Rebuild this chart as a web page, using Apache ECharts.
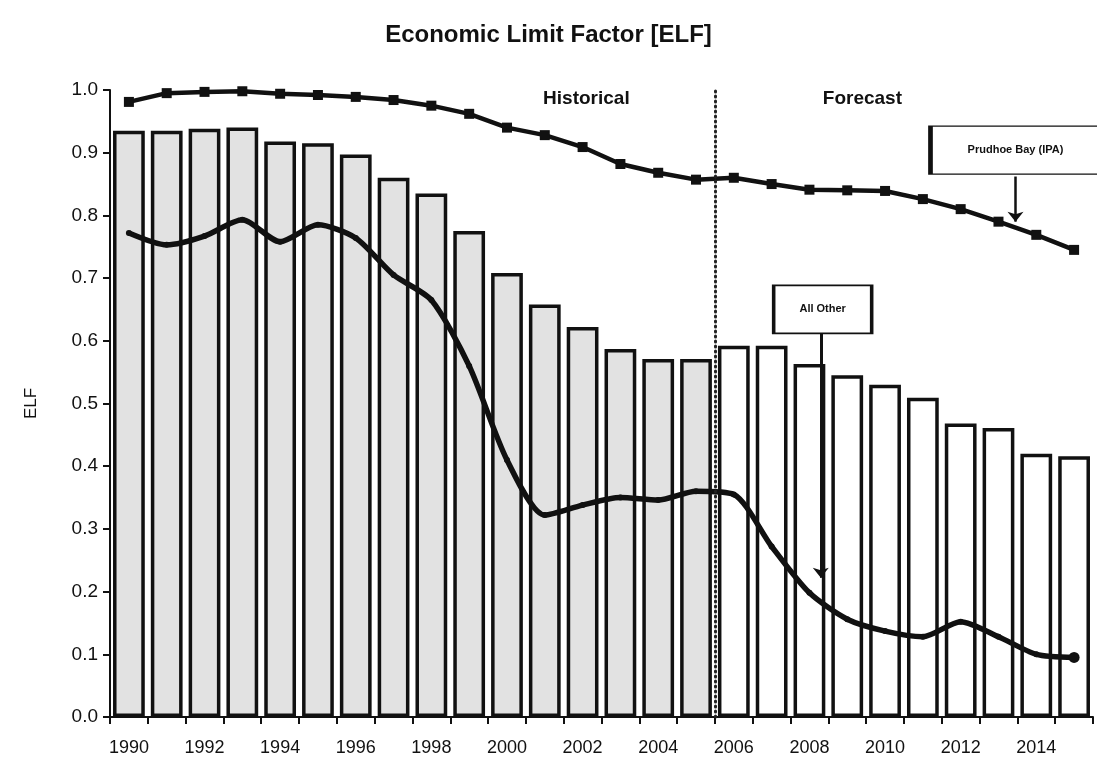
<!DOCTYPE html>
<html>
<head>
<meta charset="utf-8">
<title>Economic Limit Factor [ELF]</title>
<script src="https://cdn.jsdelivr.net/npm/echarts@6/dist/echarts.min.js"></script>
<style>
  html, body { margin: 0; padding: 0; background: #fff; }
  #chart { width: 1097px; height: 774px; }
</style>
</head>
<body>
<div id="chart"></div>
<script>
// years on the x axis, one bar per year
const years = ['1990', '1991', '1992', '1993', '1994', '1995', '1996', '1997', '1998', '1999',
  '2000', '2001', '2002', '2003', '2004', '2005', '2006', '2007', '2008', '2009',
  '2010', '2011', '2012', '2013', '2014', '2015']
// first 16 years are historical (shaded bars), rest forecast
const historicalCount = 16

// total ELF (bars)
const elfBars = [0.935, 0.935, 0.938, 0.940, 0.918, 0.915, 0.897, 0.860, 0.835, 0.775,
  0.708, 0.658, 0.622, 0.587, 0.571, 0.571, 0.592, 0.592, 0.563, 0.545,
  0.530, 0.509, 0.468, 0.461, 0.420, 0.416]

// Prudhoe Bay (IPA) line
const prudhoeBay = [0.981, 0.995, 0.997, 0.998, 0.994, 0.992, 0.989, 0.984, 0.975, 0.962,
  0.940, 0.928, 0.909, 0.882, 0.868, 0.857, 0.860, 0.850, 0.841, 0.840,
  0.839, 0.826, 0.810, 0.790, 0.769, 0.745]

// All Other line
const allOther = [0.772, 0.753, 0.767, 0.793, 0.758, 0.785, 0.764, 0.705, 0.665, 0.560,
  0.410, 0.322, 0.338, 0.350, 0.346, 0.360, 0.355, 0.272, 0.198, 0.156,
  0.137, 0.128, 0.152, 0.128, 0.100, 0.095]

const yTicks = ['0.0', '0.1', '0.2', '0.3', '0.4', '0.5', '0.6', '0.7', '0.8', '0.9', '1.0']

const chart = echarts.init(document.getElementById('chart'))
const ink = '#111'
const font = 'Liberation Sans, Arial, sans-serif'

const option = {
  backgroundColor: '#fff',
  animation: false,
  title: {
    text: 'Economic Limit Factor [ELF]',
    left: 'center',
    top: 18,
    textStyle: { fontFamily: font, fontSize: 24, fontWeight: 'bold', color: ink },
  },
  grid: { left: 110, right: 4, top: 90, bottom: 57 },
  xAxis: [
    {
      type: 'category',
      data: years,
      axisLine: { lineStyle: { color: ink, width: 2 } },
      axisTick: { show: true, interval: 0, length: 7, lineStyle: { color: ink, width: 2 } },
      axisLabel: { interval: 1, fontFamily: font, fontSize: 18, color: ink, margin: 22 },
      splitLine: { show: false },
    },
    {
      // hidden helper axis for annotations between categories
      type: 'value',
      min: 0,
      max: years.length,
      show: false,
    },
  ],
  yAxis: {
    type: 'value',
    min: 0,
    max: 1,
    interval: 0.1,
    name: 'ELF',
    nameLocation: 'middle',
    nameGap: 70,
    nameTextStyle: { fontFamily: font, fontSize: 17, color: ink },
    axisLine: { show: true, lineStyle: { color: ink, width: 2 } },
    axisTick: { show: true, length: 7, lineStyle: { color: ink, width: 2 } },
    axisLabel: {
      fontFamily: font, fontSize: 19, color: ink, margin: 12,
      formatter: (v) => yTicks[Math.round(v * 10)],
    },
    splitLine: { show: false },
  },
  series: [
    {
      name: 'ELF',
      type: 'bar',
      data: elfBars,
      barCategoryGap: '16%',
      itemStyle: {
        color: (p) => (p.dataIndex < historicalCount ? '#e2e2e2' : '#ffffff'),
        borderColor: ink,
        borderWidth: 3.5,
      },
      z: 1,
    },
    {
      name: 'Prudhoe Bay (IPA)',
      type: 'line',
      data: prudhoeBay,
      symbol: 'rect',
      symbolSize: 10,
      lineStyle: { color: ink, width: 4.5 },
      itemStyle: { color: ink },
      z: 3,
    },
    {
      name: 'All Other',
      type: 'line',
      data: allOther,
      smooth: 0.25,
      symbol: 'circle',
      symbolSize: (v, p) => (p.dataIndex === allOther.length - 1 ? 11 : 6),
      lineStyle: { color: ink, width: 5.5 },
      itemStyle: { color: ink },
      z: 3,
    },
    {
      // annotations: divider, period labels and callouts
      name: 'notes',
      type: 'scatter',
      xAxisIndex: 1,
      data: [],
      silent: true,
      z: 5,
      markLine: {
        silent: true,
        symbol: ['none', 'none'],
        label: { show: false },
        animation: false,
        data: [
          { xAxis: historicalCount, lineStyle: { color: '#222', width: 3, type: [1, 4], cap: 'round' } },
          [
            { coord: [23.95, 0.862], symbol: 'none', lineStyle: { color: ink, width: 2.5, type: 'solid' } },
            { coord: [23.95, 0.79], symbol: 'arrow', symbolSize: [12, 10] },
          ],
          [
            { coord: [18.8, 0.612], symbol: 'none', lineStyle: { color: ink, width: 3, type: 'solid' } },
            { coord: [18.8, 0.222], symbol: 'arrow', symbolSize: [12, 10] },
          ],
        ],
      },
      markPoint: {
        silent: true,
        animation: false,
        data: [
          {
            coord: [12.6, 0.986], symbol: 'rect', symbolSize: 0,
            label: { show: true, formatter: 'Historical', fontFamily: font, fontSize: 19, fontWeight: 'bold', color: ink },
          },
          {
            coord: [19.9, 0.986], symbol: 'rect', symbolSize: 0,
            label: { show: true, formatter: 'Forecast', fontFamily: font, fontSize: 19, fontWeight: 'bold', color: ink },
          },
          {
            coord: [23.95, 0.904], symbol: 'rect', symbolSize: [170, 48],
            itemStyle: { color: '#fff', borderColor: ink, borderWidth: 2.5 },
            label: { show: true, position: 'inside', formatter: 'Prudhoe Bay (IPA)', fontFamily: font, fontSize: 11, fontWeight: 'bold', color: ink },
          },
          {
            coord: [18.85, 0.65], symbol: 'rect', symbolSize: [98, 48],
            itemStyle: { color: '#fff', borderColor: ink, borderWidth: 2.5 },
            label: { show: true, position: 'inside', formatter: 'All Other', fontFamily: font, fontSize: 11, fontWeight: 'bold', color: ink },
          },
        ],
      },
    },
  ],
}

option && chart.setOption(option)
</script>
</body>
</html>
